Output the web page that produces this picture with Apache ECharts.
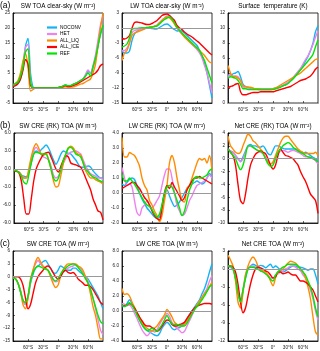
<!DOCTYPE html>
<html>
<head>
<meta charset="utf-8">
<script src="https://cdn.jsdelivr.net/npm/echarts@6/dist/echarts.min.js"></script>
<style>
  html, body { margin: 0; padding: 0; background: #fff; }
  #main { width: 320px; height: 351px; }
</style>
</head>
<body>
<div id="main"></div>
<script>
// latitude grid (deg), south to north
const lat = [-90,-85,-80,-75,-70,-65,-60,-55,-50,-45,-40,-35,-30,-25,-20,-15,-10,-5,0,5,10,15,20,25,30,35,40,45,50,55,60,65,70,75,80,85,90];

const runs = ['NOCONV', 'HET', 'ALL_LIQ', 'ALL_ICE', 'REF'];
const colors = ['#12b4f5', '#ee82ee', '#ff8c00', '#ff0000', '#00e600'];

// (a) SW TOA clear-sky
const swClr = {
  NOCONV: [1,1,1.5,3,7,14,16.5,5,0.3,0,0,0,0,0,0,0,0,0,0.1,0.3,0.6,1,0.8,0.8,1.2,1.5,2,2.5,3,4,5.5,5,7,10,14,18,20.5],
  HET: [1,1.5,2,4,8,13.5,14.5,3,0,0,0,0,0,0,0,0,0,0,0.1,0.3,0.6,1,0.8,0.8,1.2,1.5,2,2.5,3,4.5,6,5,7.5,11,16,21,24],
  ALL_LIQ: [1,1.5,2.5,5,9,11.5,7,-1,-0.5,0,0,0,0,0,0,0,0,0,0,0.1,0.2,0.4,0.3,0.3,0.3,0.6,1,1.3,1.5,2,2.5,3,5,8,14,20,25],
  ALL_ICE: [0.5,0.8,1.5,3,6,9.5,8,1,0,0,0,0,0,0,0,0,0,0,0.1,0.3,0.5,0.8,0.5,0.5,0.8,1.1,1.5,2,2.5,3,3.5,4,4.5,5,6,7.5,8],
  REF: [1,1.5,2,4,7,12,13,2,0,0,0,0,0,0,0,0,0,0,0.1,0.3,0.6,1,0.8,0.8,1.2,1.5,2,2.5,3,4,5,4,7,10,14,18,21]
};
// LW TOA clear-sky
const lwClr = {
  NOCONV: [-4.6,-5,-5,-4.6,-2.5,-1.2,-0.7,-0.3,0,0,0.1,0,-0.1,-0.2,-0.2,0.1,0.4,0.7,0.8,0.5,0,-0.3,-0.6,-0.5,-0.6,-1,-1.5,-2,-2.5,-3,-3.5,-4.5,-5.5,-7,-9,-11.5,-14],
  HET: [-4.5,-4.5,-4,-3,-1,-0.5,-0.4,-0.3,-0.1,0,0,0.1,0.2,0.4,0.6,1.1,1.6,2,2.4,2.5,2,1,0,-0.7,-1.2,-1.8,-2.3,-2.8,-3.3,-3.8,-4.3,-5,-6,-7.5,-9,-11,-13],
  ALL_LIQ: [-6.5,-5,-4.5,-3,-1.5,-1,-0.8,-0.6,-0.4,-0.2,0,0,0.2,0.3,0.5,1,1.5,2,2.2,2,1.5,0.8,0,-0.5,-1.2,-1.8,-2.3,-2.8,-3.2,-3.6,-4,-4.5,-5,-5.5,-6.2,-6.8,-7],
  ALL_ICE: [-2.1,-2.2,-2,-1.5,0,1.1,1.2,1.1,1,0.8,0.7,0.7,0.9,1.2,1.5,2,2.5,2.7,2.8,2.5,2,1.5,0.5,0,-0.3,-0.8,-1.2,-1.5,-1.8,-2.2,-2.6,-3,-3.5,-4,-4.5,-5,-5.4],
  REF: [-3.8,-3.6,-3.2,-2,-0.3,-0.1,-0.1,0,0,0,0.1,0.2,0.2,0.3,0.4,0.8,1.3,1.7,2,2.2,1.8,1,0.2,-0.5,-1,-1.5,-2,-2.5,-3,-3.5,-4,-4.5,-5.5,-6.5,-8,-9.5,-11]
};
// Surface temperature
const tSfc = {
  NOCONV: [3.8,3.6,3.9,4,4.2,3.5,2.5,2.2,2.1,2,1.9,1.9,1.8,1.8,1.8,1.8,1.8,1.8,1.9,2,2.1,2.2,2.3,2.5,2.7,3,3.3,3.7,4,4.5,5,5.6,6.2,7,8,9.5,10.3],
  HET: [3.5,3.8,3.6,3.6,3.5,3,2.2,2,2,2,1.9,1.9,1.9,1.9,1.9,1.9,1.9,1.9,1.9,1.9,2,2.2,2.4,2.6,2.8,3.1,3.4,3.8,4.2,4.6,5.2,5.8,6.3,7,7.8,8.8,9.6],
  ALL_LIQ: [5,4,3.5,3.5,3.3,3,2.3,2.2,2.1,2.1,2,1.9,1.9,1.8,1.8,1.8,1.8,1.8,1.9,2,2.2,2.4,2.6,2.8,3,3.2,3.4,3.6,3.8,4,4.3,4.6,4.9,5.2,5.5,5.8,5.9],
  ALL_ICE: [2,2.2,2.3,2.5,2.6,1.5,1.1,1.1,1.2,1.3,1.4,1.4,1.4,1.5,1.5,1.5,1.5,1.5,1.5,1.6,1.7,1.8,1.9,2,2.1,2.2,2.4,2.6,2.8,3,3.1,3.2,3.4,3.6,4,4.5,4.8],
  REF: [3.3,3.5,3.4,3.3,3,2.5,1.9,1.9,1.8,1.8,1.8,1.8,1.8,1.8,1.8,1.8,1.8,1.8,1.8,1.9,2,2.1,2.3,2.4,2.6,2.9,3.2,3.6,4,4.4,4.8,5.2,5.6,6,6.5,7.5,8.4]
};
// (b) SW CRE (RK) TOA
const swCreRK = {
  NOCONV: [-0.2,-0.3,-0.5,-1,-1.2,-1.3,-0.5,1,2.5,3,2.8,3.2,3.6,4,3.5,2.5,1.5,0.8,1.5,2.5,3,2.8,2.6,2.5,2,1.5,0.8,0.3,0.3,0.4,0.5,0.3,-0.3,-0.8,-1.2,-1.5,-1.5],
  HET: [-0.2,-0.3,-0.5,-1,-1.5,-1.5,-0.5,1.5,3,3.6,3,2.5,2,1.8,1.5,0.5,-1,-1.5,-1.2,-0.2,1,1.8,2.5,2.8,2.9,3,2.8,2.5,1.5,0.5,-0.2,-0.8,-1,-1.2,-1.5,-1.5,-1.8],
  ALL_LIQ: [-0.2,-0.3,-0.5,-1,-1.5,-1.5,0,2,3.5,4.2,3.5,2.5,2.3,2.5,1.5,0,-2,-3,-2.8,-1,1,2.5,3.5,3.8,3.5,2.8,2.5,2.3,1,-0.3,-1,-1.5,-1.5,-1.8,-2,-2.2,-2.5],
  ALL_ICE: [-0.3,-0.4,-0.6,-2,-5,-7.5,-7.5,-5,-2,0,1,1.8,2.5,2.7,2.8,2,1,0,-0.5,0.5,1.5,2.2,2,1,0.8,0.7,0.5,0.3,-0.5,-1.5,-2.5,-3.5,-5,-6,-7,-7.2,-8.5],
  REF: [-0.2,-0.3,-0.6,-1.2,-2.2,-2.5,-1,1,2.5,2.8,2.7,2.5,2.5,2.5,1.5,0,-1.5,-2,-1.5,0,1.5,2.5,3.5,3.6,3.2,2.5,2.3,2,1,0,-0.5,-1,-1.3,-1.5,-1.8,-2,-2.2]
};
// LW CRE (RK) TOA
const lwCreRK = {
  NOCONV: [0.6,0.5,0.7,0.9,1,0.9,0.5,0,-0.4,-0.7,-1,-1.2,-1.4,-1.6,-1.7,-1.6,-0.8,0,0.2,-0.2,-0.6,-0.9,-0.8,-0.6,-0.3,0,0.3,0.5,0.6,0.7,0.8,0.7,0.6,0.7,1,1.3,1],
  HET: [1.7,1,0.5,0.6,0.4,-0.5,-1.3,-1.5,-1,-0.8,-0.5,-0.8,-1,-0.8,-0.5,-0.2,0.5,1.2,1.6,1.6,1,0,-0.8,-1.2,-1.5,-1.4,-1,-0.5,-0.2,0.2,0.5,0.6,0.7,0.8,1,1.2,1],
  ALL_LIQ: [3.7,2.4,2.4,2.7,2.6,2.5,2.2,1.8,1,0.5,0.2,-0.5,-0.8,-1.2,-1.5,-1.9,-1.5,-0.5,0.5,2,2.5,2,1,0.2,-0.5,-0.6,0.3,0.5,1,1.5,2,2.3,2.2,2.3,2,2.5,1.5],
  ALL_ICE: [0.3,0.4,0.5,0.6,0.7,0.7,0.5,0.3,0,-0.3,-0.5,-0.8,-1.2,-1.5,-1.7,-1.8,-1,0,0.5,0.3,0.7,0.4,0.1,-0.2,-0.5,-0.3,0.2,0.5,0.8,1,1,1.1,1,0.9,0.8,0.7,0.6],
  REF: [1.3,0.8,0.8,1,0.8,0.6,0.3,0,-0.3,-0.6,-0.8,-0.9,-1.1,-1.4,-1.6,-1.4,-0.8,0,0.4,0.5,0.4,0,-0.5,-1,-1.5,-1.2,-0.5,0.2,0.6,1,1.1,1,1,1.1,1.2,1.5,1.6]
};
// Net CRE (RK) TOA
const netCreRK = {
  NOCONV: [1.5,1.2,1,0.5,0,-0.4,0.3,1.2,2,2.2,2,2,1.8,1.8,2,1.5,0.8,0.6,1.3,2,2,1.8,1.6,1.5,1.5,1.5,1.5,1.5,1.3,1,0.8,1,0.8,0.5,0.2,0,-0.5],
  HET: [1.5,1.2,1,0.5,0,-0.5,0,1,1.8,2,1.7,1.5,1.2,1,0.8,0.3,-0.5,-0.8,-0.6,0.2,0.8,1.2,1.3,1.2,1,1.2,1.3,1.2,1,0.8,0.5,0.3,0.3,0.2,0,-0.3,-0.8],
  ALL_LIQ: [3.5,2,1.5,1,0.8,1,2,3,3.8,3.5,2.8,2.5,2,1.5,1,0,-0.5,-0.8,-0.5,0.5,1.5,2.5,3.2,3.5,3.5,3,2.5,2,1.5,1.2,1,0.8,0.8,0.8,0.8,1,0.5],
  ALL_ICE: [1.5,1,0.5,-1,-4,-6.5,-7,-5.5,-3,-1,0,0.7,1,1.2,1,0.8,0,-1,-1.6,-1,0.5,1.5,1,0.5,0.4,0.2,0,-0.5,-1,-2,-2.8,-3.5,-4.5,-5.5,-6,-6.5,-8.5],
  REF: [1.5,1,0.5,0,-1,-1.7,-1,0.5,2,2,1.8,1.5,1.3,1.2,0.8,0,-0.8,-1.2,-1,0,1,1.5,2,2.3,2.5,2.3,1.8,1.5,1.2,1,0.8,0.5,0.3,0.2,0,-0.2,-0.5]
};
// (c) SW CRE TOA
const swCre = {
  NOCONV: [-0.2,-0.5,-1.5,-3.5,-5.5,-6.5,-4.5,-1.5,0.5,2,2.5,3,3.5,3.8,3,2,1,0.8,1.5,2.5,2.2,1.8,1.5,1.5,2,2,1.5,1,0.5,0,-0.5,-1.5,-2.5,-3.5,-4.5,-6,-7.5],
  HET: [-0.3,-0.5,-1.5,-3,-5.5,-6.5,-5,-1.5,1.5,3,3.8,3,2.3,2,1.5,0.5,-0.8,-1.2,-1,0,1,1.5,2,2.3,2.5,2.8,2.5,2,1,0,-1,-3,-5,-7.5,-10,-12.5,-13.5],
  ALL_LIQ: [-0.3,-0.5,-1.5,-3.5,-6.5,-7.5,-5,-0.5,1.5,3.5,4.5,3.5,2.5,2,1.5,0,-1.5,-2.5,-2,0,1.5,2.5,3,3,3,3,2.5,2.2,1.5,0,-1.5,-4,-7,-9,-12,-14.5,-14.5],
  ALL_ICE: [0,0,0,-0.5,-2,-5,-7.5,-6.5,-4,-1.5,0,0.8,1.5,2.2,2.5,2,1,0,-0.5,0,1,1.5,1,0.8,1,0.5,-0.5,-1,-1.5,-2,-2,-2.3,-3,-4,-5,-6,-6.5],
  REF: [-0.3,-0.5,-1.5,-3.5,-5.5,-6,-4.5,-1,1,2,2.5,2.3,2,1.8,1.5,0.5,-0.5,-1,-0.5,0.5,1.5,2,2.5,2.8,3,2.8,2.2,1.5,0.5,-0.5,-1.5,-3,-5,-7,-9,-10.5,-11]
};
// LW CRE TOA
const lwCre = {
  NOCONV: [0.6,0.6,1,1.5,1,0.3,-0.5,-1.2,-1.8,-2.3,-2.6,-2.8,-3,-3.2,-3.3,-3,-2.3,-1.8,-1.5,-1.8,-2.3,-2.5,-2.3,-2.2,-2,-1.6,-1,-0.5,0,0.5,1,1.5,2.3,3,4,5.2,6.3],
  HET: [1,0.9,0.7,0.8,0.4,-0.3,-1,-1.8,-2.5,-3,-3.3,-3,-2.6,-2.8,-2.5,-1.8,-1.2,-0.8,-0.3,-0.7,-1.5,-2,-2.3,-2.6,-2.9,-2.7,-2,-1.3,-0.6,0.2,0.8,1.3,1.8,2.4,3,4,4.7],
  ALL_LIQ: [3,2.2,2.3,2,1.2,0.5,-0.2,-0.8,-1.5,-2,-2.3,-2.5,-2.7,-2.3,-2,-1.5,-1,-0.5,0.2,-0.2,-0.8,-1.5,-1.8,-2,-2,-1.8,-1.3,-0.8,-0.3,0.3,0.8,1.3,1.8,2.3,2.7,3.3,3.8],
  ALL_ICE: [0.7,0.7,0.8,1,0.8,0.4,-0.2,-0.8,-1.3,-1.8,-2,-2,-2.2,-2.4,-2.7,-2.5,-2,-1.5,-1.2,-1.3,-1.8,-2,-2,-1.8,-1.7,-1.5,-1,-0.5,0,0.4,0.6,0.8,0.9,1,1,1,0.9],
  REF: [0.8,0.6,0.8,1.1,0.8,0.2,-0.5,-1.2,-1.8,-2.3,-2.6,-2.5,-2.3,-2.5,-2.7,-2.3,-1.8,-1.2,-0.6,-1.2,-1.7,-1.8,-1.8,-1.9,-2,-2,-1.6,-1,-0.4,0.2,0.6,1,1.5,2,2.6,3.2,3.5]
};
// Net CRE TOA
const netCre = {
  NOCONV: [0.5,0.3,0,-1.5,-4,-5.5,-3.5,-1.5,0,0.5,0.8,0.6,0.4,0.6,0.5,0.2,0.5,0.8,0.2,0.5,0.2,-0.2,-0.5,-0.3,0,0.3,0.5,0.5,0.3,0.3,0.2,0,-0.2,0,0,-1,-2.5],
  HET: [0.5,0.3,0,-1.5,-4,-5,-3.5,-1,0,0.5,0.5,0.3,0,-0.3,-0.5,-0.8,-1,-1.5,-1.5,-1,-0.8,-0.5,-0.3,0,0.2,0.5,0.5,0.3,0,-0.3,-1,-1.5,-2.5,-3.5,-5,-7,-8.5],
  ALL_LIQ: [2.3,1.5,0.5,-2,-5.5,-6.5,-4,-1,0.5,1.5,2,1.5,0.5,0,-0.3,-0.5,-1,-2,-2.8,-1.5,-0.5,-0.2,0,0.5,1,1.3,1.2,1,0.5,0,-0.5,-1.5,-3,-5,-8,-10.5,-11],
  ALL_ICE: [0.5,0.5,0.3,-0.5,-2.5,-5.5,-7.3,-6.5,-4.5,-2.5,-1,0,0.3,0.2,0,-0.3,-0.5,-1,-1.5,-1.3,-0.5,-0.5,-0.8,-0.7,-0.5,-0.8,-1,-1,-1.5,-2,-2,-2.2,-2.5,-3,-3.5,-4.5,-5.5],
  REF: [0.5,0.5,0,-1.5,-4,-5.5,-3.5,-1.5,0,0.3,0.3,0.2,0,-0.3,-0.5,-0.8,-1.2,-1.7,-2,-1,-0.5,0,0.3,0.5,0.8,0.8,0.8,0.8,0.5,0,-0.5,-1,-2,-3,-4.5,-6.5,-8]
};

// panel setup: title, data, y range, tick step, label decimals
const panels = [
  {title: 'SW TOA clear-sky (W m⁻²)', data: swClr, min: -5, max: 25, step: 5, dec: 0},
  {title: 'LW TOA clear-sky (W m⁻²)', data: lwClr, min: -15, max: 3, step: 3, dec: 0},
  {title: 'Surface  temperature (K)', data: tSfc, min: 0, max: 12, step: 2, dec: 0},
  {title: 'SW CRE (RK) TOA (W m⁻²)', data: swCreRK, min: -9, max: 6, step: 3, dec: 1},
  {title: 'LW CRE (RK) TOA (W m⁻²)', data: lwCreRK, min: -2, max: 4, step: 1, dec: 1},
  {title: 'Net CRE (RK) TOA (W m⁻²)', data: netCreRK, min: -10, max: 4, step: 2, dec: 0},
  {title: 'SW CRE TOA (W m⁻²)', data: swCre, min: -15, max: 6, step: 3, dec: 0},
  {title: 'LW CRE TOA (W m⁻²)', data: lwCre, min: -4, max: 8, step: 2, dec: 1},
  {title: 'Net CRE TOA (W m⁻²)', data: netCre, min: -12, max: 3, step: 3, dec: 0}
];

const colLeft = [13, 122, 228];
const rowTop = [13, 133, 251];
const W = 90, H = 90;
const font = 'Liberation Sans, Arial, sans-serif';

function latLabel(v) {
  if (v === 0) return '0°';
  return v < 0 ? (-v) + '°S' : v + '°N';
}

let grids = [], xAxes = [], yAxes = [], series = [], titles = [];

panels.forEach((p, i) => {
  const left = colLeft[i % 3], top = rowTop[Math.floor(i / 3)];
  grids.push({left: left, top: top, width: W, height: H, show: true,
    borderColor: '#000', borderWidth: 0.8, backgroundColor: 'transparent'});
  titles.push({text: p.title, left: left + W / 2, top: top - 10, textAlign: 'center', padding: 0,
    textStyle: {fontFamily: font, fontSize: 6.3, fontWeight: 'normal', color: '#000'}});
  xAxes.push({type: 'value', gridIndex: i, min: -90, max: 90, interval: 30, position: 'bottom',
    axisLine: {show: true, onZero: false, lineStyle: {color: '#000', width: 0.8}},
    axisTick: {show: true, inside: true, length: 2, lineStyle: {color: '#000', width: 0.6}},
    axisLabel: {fontFamily: font, fontSize: 4.6, color: '#222', margin: 4,
      showMinLabel: false, showMaxLabel: false, formatter: latLabel},
    splitLine: {show: false}});
  yAxes.push({type: 'value', gridIndex: i, min: p.min, max: p.max, interval: p.step, position: 'left',
    axisLine: {show: true, onZero: false, lineStyle: {color: '#000', width: 0.8}},
    axisTick: {show: true, inside: true, length: 2, lineStyle: {color: '#000', width: 0.6}},
    axisLabel: {fontFamily: font, fontSize: 4.6, color: '#222', margin: 3,
      formatter: v => v.toFixed(p.dec)},
    splitLine: {show: false}});
  runs.forEach((r, k) => {
    const s = {
      name: r, type: 'line', xAxisIndex: i, yAxisIndex: i,
      data: lat.map((x, j) => [x, p.data[r][j]]),
      showSymbol: false, smooth: 0.3, color: colors[k],
      lineStyle: {width: 1.4, color: colors[k]}
    };
    if (k === 0) {
      s.markLine = {silent: true, symbol: 'none', label: {show: false},
        lineStyle: {color: '#999', width: 1, type: 'solid'}, data: [{yAxis: 0}]};
    }
    series.push(s);
  });
});

['(a)', '(b)', '(c)'].forEach((t, r) => {
  titles.push({text: t, left: 0, top: rowTop[r] - 12, padding: 0,
    textStyle: {fontFamily: font, fontSize: 8.5, fontWeight: 'normal', color: '#000'}});
});

const chart = echarts.init(document.getElementById('main'), null, {renderer: 'canvas'});
chart.setOption({
  animation: false,
  backgroundColor: '#fff',
  title: titles,
  grid: grids,
  xAxis: xAxes,
  yAxis: yAxes,
  legend: {
    data: runs, orient: 'vertical', left: 42, top: 20,
    icon: 'rect', itemWidth: 10, itemHeight: 2.2, itemGap: 1.5,
    textStyle: {fontFamily: font, fontSize: 4.8, color: '#000', padding: [0, 0, 0, -2]}
  },
  series: series
});
</script>
</body>
</html>
